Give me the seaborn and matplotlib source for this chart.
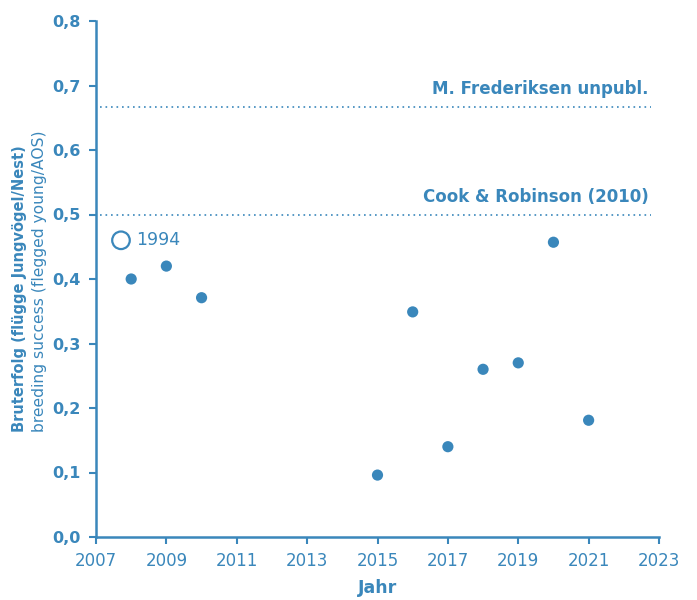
import matplotlib
matplotlib.use("Agg")
import matplotlib.pyplot as plt
import seaborn as sns
import pandas as pd

years = [2008, 2009, 2010, 2015, 2016, 2017, 2018, 2019, 2020, 2021]
success = [0.40, 0.42, 0.371, 0.096, 0.349, 0.14, 0.26, 0.27, 0.457, 0.181]
ref_1994_x = [2007.71]
ref_1994_y = [0.46]
ref_1994_label = "1994"
ref_lines = [0.667, 0.50]
ref_labels = ["M. Frederiksen unpubl.", "Cook & Robinson (2010)"]
x_ticks = [2007, 2009, 2011, 2013, 2015, 2017, 2019, 2021, 2023]
y_ticks = [0.0, 0.1, 0.2, 0.3, 0.4, 0.5, 0.6, 0.7, 0.8]

C = "#3a87bb"

sns.set_style("white")
plt.rcParams['font.family'] = ['DejaVu Sans']

df = pd.DataFrame({"Jahr": years, "Bruterfolg": success})

fig = plt.figure(figsize=(6.97, 6.0), dpi=100)
ax = fig.add_axes([96/697, 1-537/600, (659-96)/697, (537-21)/600])

sns.scatterplot(data=df, x="Jahr", y="Bruterfolg", ax=ax, color=C, s=65,
                edgecolor="none", zorder=3, legend=False)
ax.scatter(ref_1994_x, ref_1994_y, s=160, facecolor="none", edgecolor=C,
           linewidth=1.6, zorder=3)
ax.text(ref_1994_x[0] + 0.42, ref_1994_y[0], ref_1994_label, color=C,
        fontsize=12.5, va="center", ha="left")

for yv, lab in zip(ref_lines, ref_labels):
    ax.hlines(yv, 2007.1, 2022.78, colors=C, linestyles=(0, (1, 2.3)), linewidth=1.2)
    ax.text(2022.7, yv + 0.013, lab, color=C, fontsize=12, fontweight="bold",
            ha="right", va="bottom")

ax.set_xlim(2007, 2023)
ax.set_ylim(0, 0.8)
ax.set_xticks(x_ticks)
ax.set_yticks(y_ticks)
ax.set_xticklabels([str(t) for t in x_ticks], color=C, fontsize=12)
ax.set_yticklabels([f"{t:.1f}".replace(".", ",") for t in y_ticks], color=C,
                   fontsize=11.5, fontweight="bold")
ax.tick_params(axis="both", direction="out", length=5, width=1.5, color=C,
               left=True, bottom=True, pad=6)
for side in ["top", "right"]:
    ax.spines[side].set_visible(False)
for side in ["left", "bottom"]:
    ax.spines[side].set_color(C)
    ax.spines[side].set_linewidth(1.8)

ax.set_xlabel("Jahr", color=C, fontsize=12.5, fontweight="bold", labelpad=6)
ax.set_ylabel("")

fig.text(20/697, 1-432/600, "Bruterfolg (flügge Jungvögel/Nest)", color=C,
         fontsize=10.5, rotation=90, ha="center", va="bottom", fontweight="bold")
fig.text(40/697, 1-432/600, "breeding success (flegged young/AOS)", color=C,
         fontsize=11.2, rotation=90, ha="center", va="bottom")

fig.savefig("out.png", dpi=100)
